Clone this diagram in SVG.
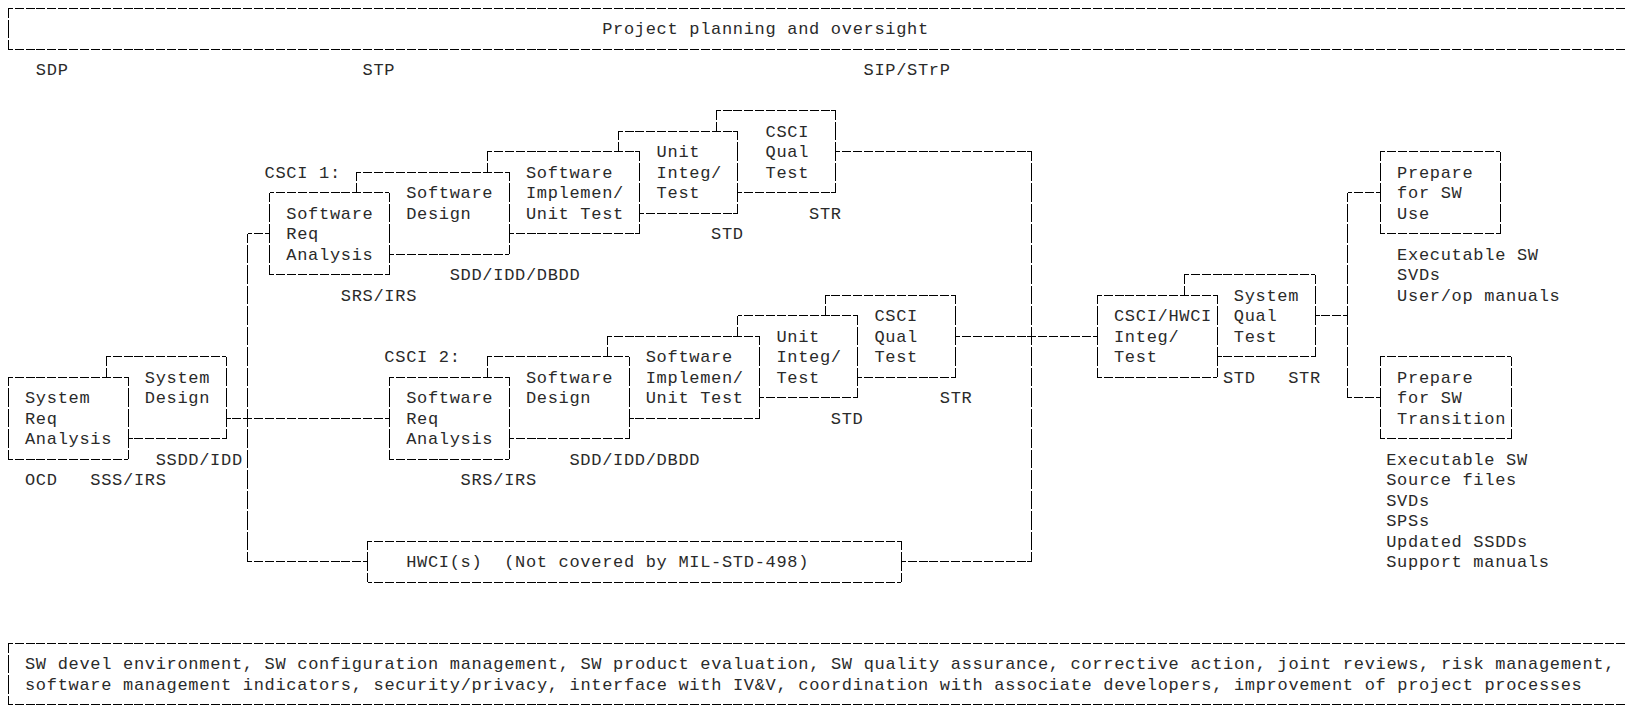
<svg xmlns="http://www.w3.org/2000/svg" width="1626" height="706" viewBox="0 0 1626 706">
<style>
text{font-family:"Liberation Mono","DejaVu Sans Mono",monospace;font-size:17px;letter-spacing:0.69px;fill:#2a2a2a}
line{stroke:#000;stroke-width:1;fill:none;shape-rendering:crispEdges}
.h{stroke-dasharray:9 1.89;stroke-dashoffset:4.5}
.v{stroke-dasharray:18.5 1.99;stroke-dashoffset:9.25}
</style>
<rect width="1626" height="706" fill="#fff"/>

<g id="planning">
<line class="h" x1="8.3" y1="8.3" x2="1626" y2="8.3"/>
<line class="h" x1="8.3" y1="49.28" x2="1626" y2="49.28"/>
<line class="v" x1="8.3" y1="8.3" x2="8.3" y2="49.28"/>
<text x="602.15" y="34.29">Project planning and oversight</text>
</g>
<g id="plans">
<text x="35.87" y="75.27">SDP</text>
<text x="362.57" y="75.27">STP</text>
<text x="863.51" y="75.27">SIP/STrP</text>
</g>

<g id="connectors">
<line class="h" x1="226.1" y1="418.1" x2="389.45" y2="418.1"/>
<line class="v" x1="247.88" y1="233.69" x2="247.88" y2="561.53"/>
<line class="h" x1="247.88" y1="233.69" x2="269.66" y2="233.69"/>
<line class="h" x1="247.88" y1="561.53" x2="367.67" y2="561.53"/>
<line class="h" x1="835.94" y1="151.73" x2="1031.96" y2="151.73"/>
<line class="v" x1="1031.96" y1="151.73" x2="1031.96" y2="561.53"/>
<line class="h" x1="901.28" y1="561.53" x2="1031.96" y2="561.53"/>
<line class="h" x1="955.73" y1="336.14" x2="1097.3" y2="336.14"/>
<line class="h" x1="1315.1" y1="315.65" x2="1347.77" y2="315.65"/>
<line class="v" x1="1347.77" y1="192.71" x2="1347.77" y2="397.61"/>
<line class="h" x1="1347.77" y1="192.71" x2="1380.44" y2="192.71"/>
<line class="h" x1="1347.77" y1="397.61" x2="1380.44" y2="397.61"/>
</g>

<g id="sys-design">
<line class="v" x1="106.31" y1="356.63" x2="106.31" y2="377.12"/>
<line class="h" x1="106.31" y1="356.63" x2="226.1" y2="356.63"/>
<line class="v" x1="226.1" y1="356.63" x2="226.1" y2="438.59"/>
<line class="h" x1="128.09" y1="438.59" x2="226.1" y2="438.59"/>
<text x="144.77" y="382.62">System</text>
<text x="144.77" y="403.11">Design</text>
<text x="155.66" y="464.58">SSDD/IDD</text>
</g>
<g id="sys-req">
<line class="h" x1="8.3" y1="377.12" x2="128.09" y2="377.12"/>
<line class="h" x1="8.3" y1="459.08" x2="128.09" y2="459.08"/>
<line class="v" x1="8.3" y1="377.12" x2="8.3" y2="459.08"/>
<line class="v" x1="128.09" y1="377.12" x2="128.09" y2="459.08"/>
<text x="24.98" y="403.11">System</text>
<text x="24.98" y="423.6">Req</text>
<text x="24.98" y="444.09">Analysis</text>
<text x="24.98" y="485.07">OCD</text>
<text x="90.32" y="485.07">SSS/IRS</text>
</g>

<g id="csci1">
<text x="264.56" y="177.72">CSCI 1:</text>
</g>
<g id="csci1-qual">
<line class="v" x1="716.15" y1="110.75" x2="716.15" y2="131.24"/>
<line class="h" x1="716.15" y1="110.75" x2="835.94" y2="110.75"/>
<line class="v" x1="835.94" y1="110.75" x2="835.94" y2="192.71"/>
<line class="h" x1="737.93" y1="192.71" x2="835.94" y2="192.71"/>
<text x="765.5" y="136.74">CSCI</text>
<text x="765.5" y="157.23">Qual</text>
<text x="765.5" y="177.72">Test</text>
<text x="809.06" y="218.7">STR</text>
</g>
<g id="csci1-integ">
<line class="v" x1="618.14" y1="131.24" x2="618.14" y2="151.73"/>
<line class="h" x1="618.14" y1="131.24" x2="737.93" y2="131.24"/>
<line class="v" x1="737.93" y1="131.24" x2="737.93" y2="213.2"/>
<line class="h" x1="639.92" y1="213.2" x2="737.93" y2="213.2"/>
<text x="656.6" y="157.23">Unit</text>
<text x="656.6" y="177.72">Integ/</text>
<text x="656.6" y="198.21">Test</text>
<text x="711.05" y="239.19">STD</text>
</g>
<g id="csci1-impl">
<line class="v" x1="487.46" y1="151.73" x2="487.46" y2="172.22"/>
<line class="h" x1="487.46" y1="151.73" x2="639.92" y2="151.73"/>
<line class="v" x1="639.92" y1="151.73" x2="639.92" y2="233.69"/>
<line class="h" x1="509.24" y1="233.69" x2="639.92" y2="233.69"/>
<text x="525.92" y="177.72">Software</text>
<text x="525.92" y="198.21">Implemen/</text>
<text x="525.92" y="218.7">Unit Test</text>
</g>
<g id="csci1-design">
<line class="v" x1="356.78" y1="172.22" x2="356.78" y2="192.71"/>
<line class="h" x1="356.78" y1="172.22" x2="509.24" y2="172.22"/>
<line class="v" x1="509.24" y1="172.22" x2="509.24" y2="254.18"/>
<line class="h" x1="389.45" y1="254.18" x2="509.24" y2="254.18"/>
<text x="406.13" y="198.21">Software</text>
<text x="406.13" y="218.7">Design</text>
<text x="449.69" y="280.17">SDD/IDD/DBDD</text>
</g>
<g id="csci1-req">
<line class="h" x1="269.66" y1="192.71" x2="389.45" y2="192.71"/>
<line class="h" x1="269.66" y1="274.67" x2="389.45" y2="274.67"/>
<line class="v" x1="269.66" y1="192.71" x2="269.66" y2="274.67"/>
<line class="v" x1="389.45" y1="192.71" x2="389.45" y2="274.67"/>
<text x="286.34" y="218.7">Software</text>
<text x="286.34" y="239.19">Req</text>
<text x="286.34" y="259.68">Analysis</text>
<text x="340.79" y="300.66">SRS/IRS</text>
</g>

<g id="csci2">
<text x="384.35" y="362.13">CSCI 2:</text>
</g>
<g id="csci2-qual">
<line class="v" x1="825.05" y1="295.16" x2="825.05" y2="315.65"/>
<line class="h" x1="825.05" y1="295.16" x2="955.73" y2="295.16"/>
<line class="v" x1="955.73" y1="295.16" x2="955.73" y2="377.12"/>
<line class="h" x1="857.72" y1="377.12" x2="955.73" y2="377.12"/>
<text x="874.4" y="321.15">CSCI</text>
<text x="874.4" y="341.64">Qual</text>
<text x="874.4" y="362.13">Test</text>
<text x="939.74" y="403.11">STR</text>
</g>
<g id="csci2-integ">
<line class="v" x1="737.93" y1="315.65" x2="737.93" y2="336.14"/>
<line class="h" x1="737.93" y1="315.65" x2="857.72" y2="315.65"/>
<line class="v" x1="857.72" y1="315.65" x2="857.72" y2="397.61"/>
<line class="h" x1="759.71" y1="397.61" x2="857.72" y2="397.61"/>
<text x="776.39" y="341.64">Unit</text>
<text x="776.39" y="362.13">Integ/</text>
<text x="776.39" y="382.62">Test</text>
<text x="830.84" y="423.6">STD</text>
</g>
<g id="csci2-impl">
<line class="v" x1="607.25" y1="336.14" x2="607.25" y2="356.63"/>
<line class="h" x1="607.25" y1="336.14" x2="759.71" y2="336.14"/>
<line class="v" x1="759.71" y1="336.14" x2="759.71" y2="418.1"/>
<line class="h" x1="629.03" y1="418.1" x2="759.71" y2="418.1"/>
<text x="645.71" y="362.13">Software</text>
<text x="645.71" y="382.62">Implemen/</text>
<text x="645.71" y="403.11">Unit Test</text>
</g>
<g id="csci2-design">
<line class="v" x1="487.46" y1="356.63" x2="487.46" y2="377.12"/>
<line class="h" x1="487.46" y1="356.63" x2="629.03" y2="356.63"/>
<line class="v" x1="629.03" y1="356.63" x2="629.03" y2="438.59"/>
<line class="h" x1="509.24" y1="438.59" x2="629.03" y2="438.59"/>
<text x="525.92" y="382.62">Software</text>
<text x="525.92" y="403.11">Design</text>
<text x="569.48" y="464.58">SDD/IDD/DBDD</text>
</g>
<g id="csci2-req">
<line class="h" x1="389.45" y1="377.12" x2="509.24" y2="377.12"/>
<line class="h" x1="389.45" y1="459.08" x2="509.24" y2="459.08"/>
<line class="v" x1="389.45" y1="377.12" x2="389.45" y2="459.08"/>
<line class="v" x1="509.24" y1="377.12" x2="509.24" y2="459.08"/>
<text x="406.13" y="403.11">Software</text>
<text x="406.13" y="423.6">Req</text>
<text x="406.13" y="444.09">Analysis</text>
<text x="460.58" y="485.07">SRS/IRS</text>
</g>

<g id="hwci">
<line class="h" x1="367.67" y1="541.04" x2="901.28" y2="541.04"/>
<line class="h" x1="367.67" y1="582.02" x2="901.28" y2="582.02"/>
<line class="v" x1="367.67" y1="541.04" x2="367.67" y2="582.02"/>
<line class="v" x1="901.28" y1="541.04" x2="901.28" y2="582.02"/>
<text x="406.13" y="567.03">HWCI(s)</text>
<text x="504.14" y="567.03">(Not covered by MIL-STD-498)</text>
</g>

<g id="sys-qual">
<line class="v" x1="1184.42" y1="274.67" x2="1184.42" y2="295.16"/>
<line class="h" x1="1184.42" y1="274.67" x2="1315.1" y2="274.67"/>
<line class="v" x1="1315.1" y1="274.67" x2="1315.1" y2="356.63"/>
<line class="h" x1="1217.09" y1="356.63" x2="1315.1" y2="356.63"/>
<text x="1233.77" y="300.66">System</text>
<text x="1233.77" y="321.15">Qual</text>
<text x="1233.77" y="341.64">Test</text>
<text x="1288.22" y="382.62">STR</text>
</g>
<g id="csci-hwci">
<line class="h" x1="1097.3" y1="295.16" x2="1217.09" y2="295.16"/>
<line class="h" x1="1097.3" y1="377.12" x2="1217.09" y2="377.12"/>
<line class="v" x1="1097.3" y1="295.16" x2="1097.3" y2="377.12"/>
<line class="v" x1="1217.09" y1="295.16" x2="1217.09" y2="377.12"/>
<text x="1113.98" y="321.15">CSCI/HWCI</text>
<text x="1113.98" y="341.64">Integ/</text>
<text x="1113.98" y="362.13">Test</text>
<text x="1222.88" y="382.62">STD</text>
</g>

<g id="prep-use">
<line class="h" x1="1380.44" y1="151.73" x2="1500.23" y2="151.73"/>
<line class="h" x1="1380.44" y1="233.69" x2="1500.23" y2="233.69"/>
<line class="v" x1="1380.44" y1="151.73" x2="1380.44" y2="233.69"/>
<line class="v" x1="1500.23" y1="151.73" x2="1500.23" y2="233.69"/>
<text x="1397.12" y="177.72">Prepare</text>
<text x="1397.12" y="198.21">for SW</text>
<text x="1397.12" y="218.7">Use</text>
<text x="1397.12" y="259.68">Executable SW</text>
<text x="1397.12" y="280.17">SVDs</text>
<text x="1397.12" y="300.66">User/op manuals</text>
</g>
<g id="prep-transition">
<line class="h" x1="1380.44" y1="356.63" x2="1511.12" y2="356.63"/>
<line class="h" x1="1380.44" y1="438.59" x2="1511.12" y2="438.59"/>
<line class="v" x1="1380.44" y1="356.63" x2="1380.44" y2="438.59"/>
<line class="v" x1="1511.12" y1="356.63" x2="1511.12" y2="438.59"/>
<text x="1397.12" y="382.62">Prepare</text>
<text x="1397.12" y="403.11">for SW</text>
<text x="1397.12" y="423.6">Transition</text>
<text x="1386.23" y="464.58">Executable SW</text>
<text x="1386.23" y="485.07">Source files</text>
<text x="1386.23" y="505.56">SVDs</text>
<text x="1386.23" y="526.05">SPSs</text>
<text x="1386.23" y="546.54">Updated SSDDs</text>
<text x="1386.23" y="567.03">Support manuals</text>
</g>

<g id="support">
<line class="h" x1="8.3" y1="643.49" x2="1626" y2="643.49"/>
<line class="h" x1="8.3" y1="704.96" x2="1626" y2="704.96"/>
<line class="v" x1="8.3" y1="643.49" x2="8.3" y2="704.96"/>
<text x="24.98" y="669.48">SW devel environment, SW configuration management, SW product evaluation, SW quality assurance, corrective action, joint reviews, risk management,</text>
<text x="24.98" y="689.97">software management indicators, security/privacy, interface with IV&amp;V, coordination with associate developers, improvement of project processes</text>
</g>
</svg>
